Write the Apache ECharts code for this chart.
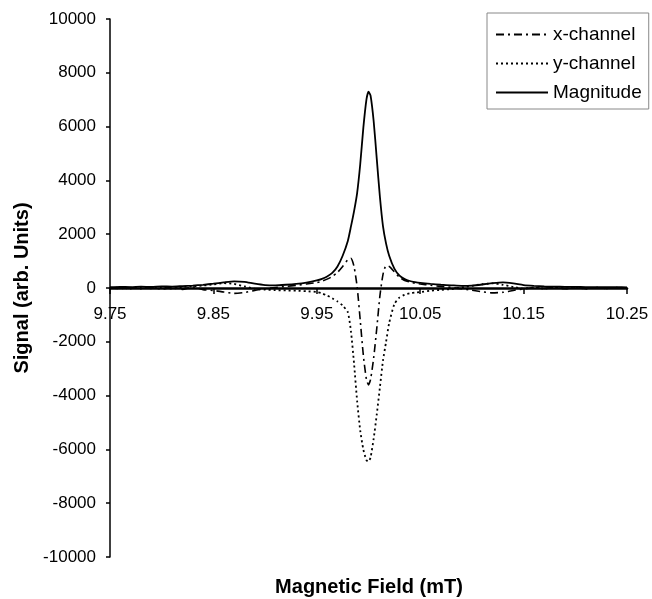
<!DOCTYPE html>
<html><head><meta charset="utf-8">
<script src="https://cdn.jsdelivr.net/npm/echarts@6/dist/echarts.min.js"></script>
<style>html,body{margin:0;padding:0;background:#fff}#c{width:652px;height:599px}</style>
</head><body><div id="c"></div>
<script>
const field = [9.75, 9.76, 9.77, 9.78, 9.79, 9.80, 9.81, 9.82, 9.83, 9.84, 9.85, 9.86, 9.87, 9.88, 9.89, 9.90, 9.91, 9.92, 9.93, 9.94, 9.95,
  9.955, 9.96, 9.965, 9.97, 9.975, 9.98,
  9.983, 9.986, 9.989, 9.992, 9.995, 9.998,
  10.0,
  10.002, 10.005, 10.008, 10.011, 10.014, 10.017,
  10.02, 10.025, 10.03, 10.035, 10.04, 10.045, 10.05,
  10.06, 10.07, 10.08, 10.09, 10.10, 10.11, 10.12, 10.13, 10.14, 10.15, 10.16, 10.17, 10.18, 10.19, 10.20, 10.21, 10.22, 10.23, 10.24, 10.25];
const xChannel = [10, -20, 15, -30, 20, -40, 30, -50, 40, -60, -90, -150, -200, -170, -90, -30, 20, 60, 100, 150, 200,
  250, 330, 430, 580, 800, 1050,
  1100, 800, 50, -1200, -2500, -3400,
  -3600,
  -3400, -2600, -1500, -300, 500, 830,
  800, 600, 400, 280, 220, 180, 150,
  100, 60, 20, -30, -80, -140, -180, -160, -90, -40, 20, -20, 30, -30, 20, -25, 15, -15, 10, -10];
const yChannel = [-10, 15, -20, 25, -15, 30, -25, 40, 60, 90, 130, 180, 150, 60, -30, -60, -80, -90, -100, -120, -150,
  -200, -280, -380, -500, -650, -900,
  -1600, -2800, -4200, -5300, -6000, -6400,
  -6450,
  -6300, -5600, -4700, -3700, -2700, -2000,
  -1300, -600, -350, -250, -200, -170, -150,
  -100, -70, -40, 20, 80, 140, 170, 120, 40, -20, 15, -20, 20, -15, 10, -20, 15, -10, 10, -5];
const magnitude = [30, 40, 35, 50, 40, 60, 50, 70, 90, 120, 160, 210, 250, 230, 160, 110, 100, 120, 150, 200, 280,
  340, 430, 560, 800, 1200, 1750,
  2280, 2850, 3530, 4600, 5950, 7000,
  7300,
  7150, 6200, 4800, 3400, 2300, 1650,
  1200, 720, 460, 330, 260, 220, 190,
  150, 120, 100, 80, 90, 130, 180, 210, 170, 110, 80, 60, 50, 45, 40, 35, 35, 30, 30, 25];
const xTickValues = [9.75, 9.85, 9.95, 10.05, 10.15, 10.25];
const seriesNames = ['x-channel', 'y-channel', 'Magnitude'];

const FONT = '"Liberation Sans", Arial, sans-serif';
const pairs = arr => field.map((f, i) => [f, arr[i]]);

const chart = echarts.init(document.getElementById('c'), null, {renderer: 'canvas'});
chart.setOption({
  animation: false,
  backgroundColor: '#fff',
  grid: {left: 110, right: 25, top: 19, bottom: 42, containLabel: false},
  xAxis: {
    type: 'value', min: 9.75, max: 10.25, position: 'bottom', offset: -269,
    axisLine: {onZero: false, lineStyle: {color: '#000', width: 2.5}},
    axisTick: {show: true, customValues: xTickValues, length: 6, lineStyle: {color: '#000', width: 1.5}},
    axisLabel: {customValues: xTickValues, formatter: v => v.toFixed(2), color: '#000', fontSize: 17, fontFamily: FONT, margin: 18},
    splitLine: {show: false}
  },
  yAxis: {
    type: 'value', min: -10000, max: 10000, interval: 2000,
    axisLine: {show: true, onZero: false, lineStyle: {color: '#000', width: 1.5}},
    axisTick: {show: true, length: 4, lineStyle: {color: '#000', width: 1.5}},
    axisLabel: {formatter: v => String(v), color: '#000', fontSize: 17, fontFamily: FONT, margin: 14},
    splitLine: {show: false}
  },
  legend: {
    orient: 'vertical', left: 487, top: 13,
    padding: [12, 7, 7, 8], itemWidth: 52, itemHeight: 14, itemGap: 10,
    borderColor: '#888', borderWidth: 1, backgroundColor: '#fff',
    itemStyle: {color: 'rgba(0,0,0,0)', borderColor: 'rgba(0,0,0,0)', borderWidth: 0, opacity: 0},
    textStyle: {fontSize: 19, fontFamily: FONT, color: '#000'},
    data: seriesNames
  },
  graphic: [
    {type: 'text', x: 369, y: 587, style: {text: 'Magnetic Field (mT)', align: 'center', verticalAlign: 'middle', font: 'bold 20px ' + FONT, fill: '#000'}},
    {type: 'text', x: 22, y: 288, rotation: Math.PI / 2, style: {text: 'Signal (arb. Units)', align: 'center', verticalAlign: 'middle', font: 'bold 20px ' + FONT, fill: '#000'}}
  ],
  series: [
    {name: seriesNames[0], type: 'line', data: pairs(xChannel), symbol: 'none', smooth: 0.2,
      lineStyle: {color: '#000', width: 1.6, type: [8, 4, 2, 4]}, itemStyle: {color: '#000'}},
    {name: seriesNames[1], type: 'line', data: pairs(yChannel), symbol: 'none', smooth: 0.2,
      lineStyle: {color: '#000', width: 1.8, type: [2, 3]}, itemStyle: {color: '#000'}},
    {name: seriesNames[2], type: 'line', data: pairs(magnitude), symbol: 'none', smooth: 0.2,
      lineStyle: {color: '#000', width: 1.8}, itemStyle: {color: '#000'}}
  ]
});
</script></body></html>
